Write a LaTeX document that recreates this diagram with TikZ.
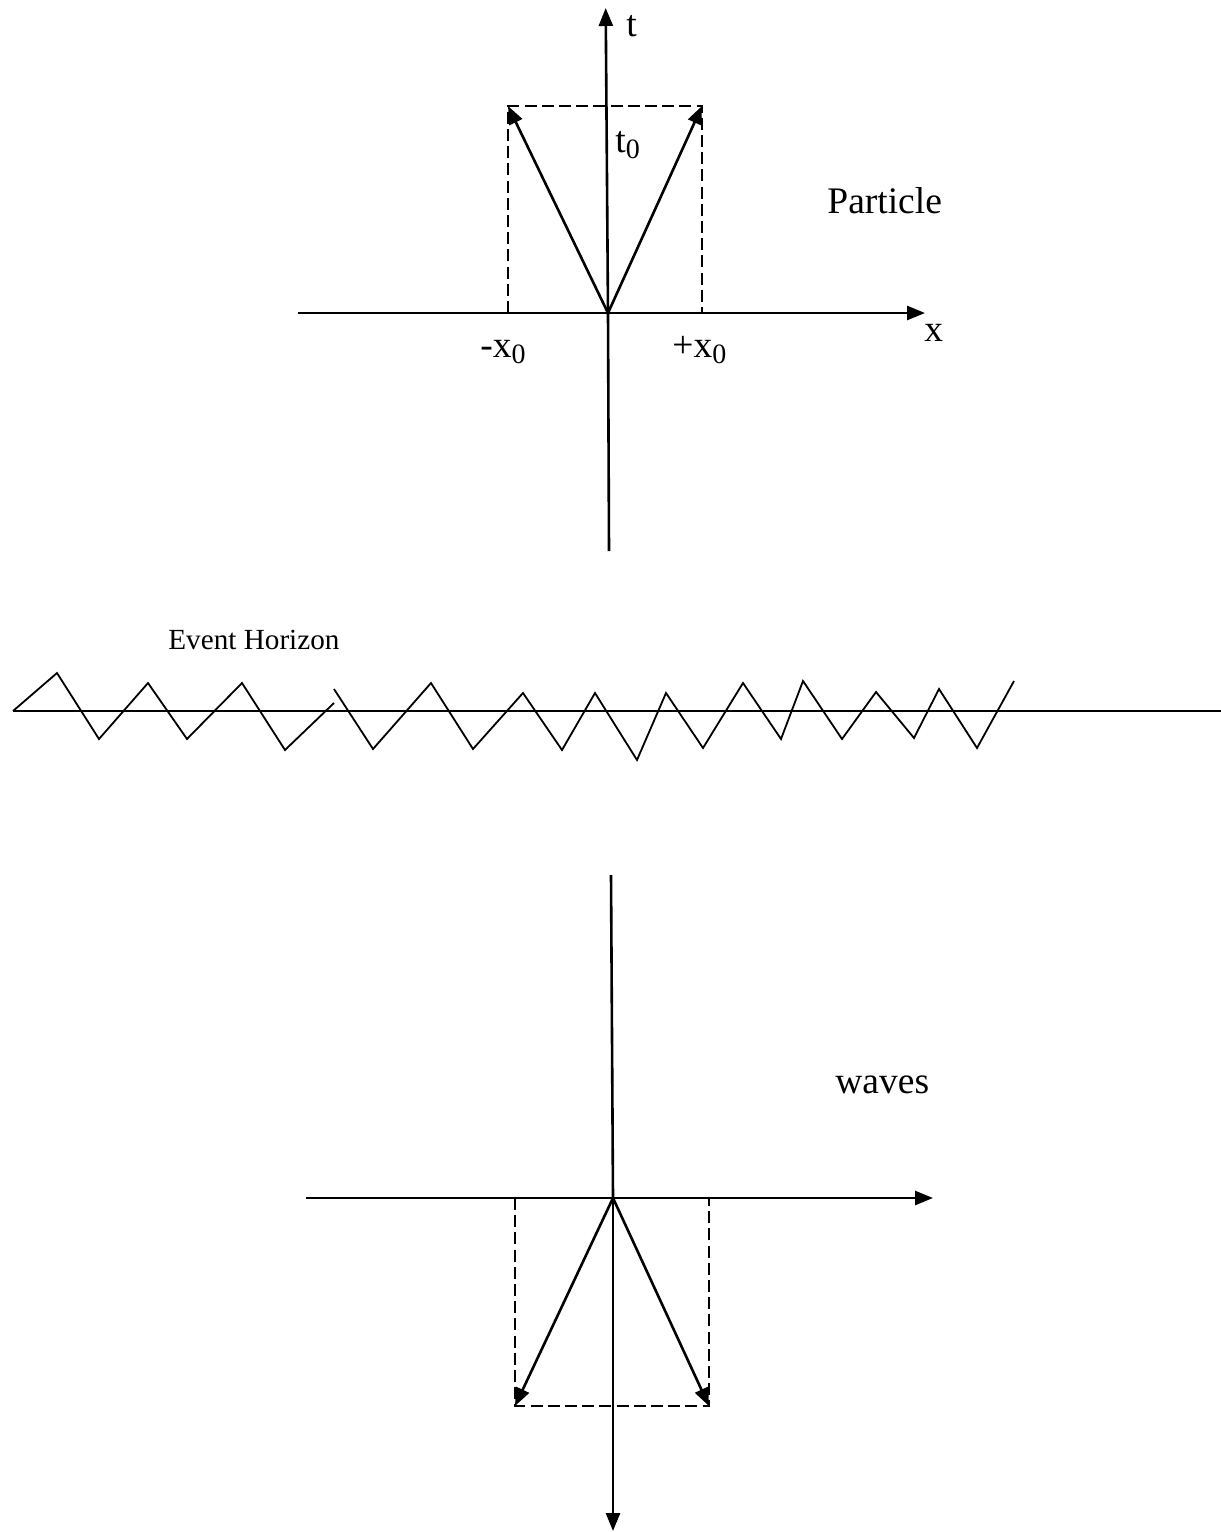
\documentclass[tikz,border=0pt]{standalone}
\usepackage{fontspec}
\setmainfont{Liberation Serif}
\usetikzlibrary{arrows.meta}
\newcommand{\subz}{{\fontsize{14}{14}\selectfont\raisebox{-3pt}{0}}}
\tikzset{
  axis/.style={line width=1.3pt},
  arr/.style={line width=1.3pt,-{Triangle[length=9pt,width=7pt]}},
  dash box/.style={line width=0.9pt,dash pattern=on 6pt off 2.6pt},
  zig/.style={line width=0.9pt,line join=miter},
  lab/.style={anchor=base west,inner sep=0pt,font=\fontsize{18.75}{22}\selectfont},
  small lab/.style={anchor=base west,inner sep=0pt,font=\fontsize{14.6}{17}\selectfont}
}
\begin{document}
\begin{tikzpicture}[x=0.5pt,y=-0.5pt]
\useasboundingbox (0,0) rectangle (1221,1532);
% ---- top diagram (Particle)
\coordinate (O1) at (608,313);
\coordinate (T1top) at (605.7,8);
\coordinate (T1bot) at (609,551);
\coordinate (X1left) at (298,313);
\coordinate (X1right) at (925,313);
\coordinate (A1l) at (508,106);
\coordinate (A1r) at (702,106);
\coordinate (B1l) at (508,313);
\coordinate (B1r) at (702,313);
\draw[dash box] (B1l) -- (A1l) -- (A1r) -- (B1r);
\draw[axis] (X1left) -- (O1);
\draw[arr] (O1) -- (X1right);
\draw[axis] (T1bot) -- (O1);
\draw[arr] (O1) -- (T1top);
\draw[arr] (O1) -- (A1l);
\draw[arr] (O1) -- (A1r);
\node[lab] (tlab) at (626,36) {t};
\node[lab] (t0lab) at (615,152) {t\subz};
\node[lab] (xlab) at (924,341) {x};
\node[lab] (mx0) at (480,357) {-x\subz};
\node[lab] (px0) at (672,357) {+x\subz};
\node[lab] (particle) at (827,213) {Particle};
% ---- event horizon
\node[small lab] (eh) at (168,649) {Event Horizon};
\coordinate (H0) at (13,711);
\coordinate (H1) at (1221,711);
\draw[axis] (H0) -- (H1);
\draw[zig] (H0) -- (57,673) -- (99,739) -- (148,683) -- (187,739) -- (242,683) -- (285,750) -- (334,703);
\draw[zig] (334,689) -- (373,749) -- (431,683) -- (473,749) -- (523,693) -- (562,750) -- (595,693) -- (637,760) -- (666,693) -- (703,748) -- (743,683) -- (781,739) -- (803,681) -- (842,739) -- (876,692) -- (914,738) -- (939,689) -- (977,748) -- (1014,681);
% ---- bottom diagram (waves)
\coordinate (O2) at (613,1198);
\coordinate (T2top) at (611,875);
\coordinate (T2bot) at (613,1531);
\coordinate (X2left) at (306,1198);
\coordinate (X2right) at (933,1198);
\coordinate (A2l) at (515,1406);
\coordinate (A2r) at (709,1406);
\coordinate (B2l) at (515,1198);
\coordinate (B2r) at (709,1198);
\draw[dash box] (B2l) -- (A2l) -- (A2r) -- (B2r);
\draw[axis] (X2left) -- (O2);
\draw[arr] (O2) -- (X2right);
\draw[axis] (T2top) -- (O2);
\draw[arr] (O2) -- (T2bot);
\draw[arr] (O2) -- (A2l);
\draw[arr] (O2) -- (A2r);
\node[lab] (waves) at (835,1093) {waves};
\end{tikzpicture}
\end{document}
